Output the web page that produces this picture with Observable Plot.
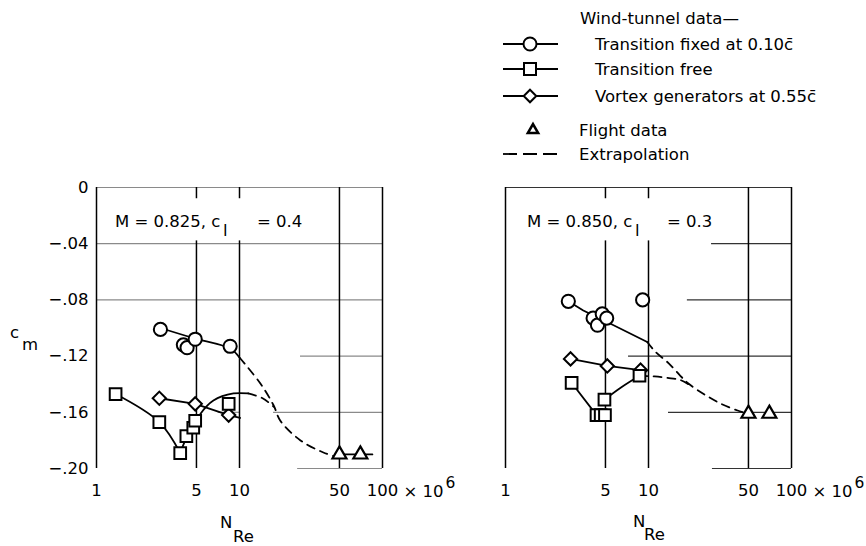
<!DOCTYPE html>
<html>
<head>
<meta charset="utf-8">
<script src="https://cdn.jsdelivr.net/npm/d3@7"></script>
<script src="https://cdn.jsdelivr.net/npm/@observablehq/plot@0.6"></script>
<style>
  html, body { margin: 0; padding: 0; background: #fff; }
  #wrap { position: relative; width: 866px; height: 546px; overflow: hidden; font-family: 'DejaVu Sans', sans-serif; color: #000; }
  #wrap > * { position: absolute; }
</style>
</head>
<body>
<div id="wrap"></div>
<script>
// ---------- data: left panel (M = 0.825, cl = 0.4) ----------
const xTicks = [1, 5, 10, 50, 100];
const yTicks = [0, -0.04, -0.08, -0.12, -0.16, -0.20];

const L_fixedN  = [2.8, 4.05, 4.3, 4.9, 8.6];
const L_fixedCm = [-0.101, -0.112, -0.114, -0.108, -0.113];
const L_freeN   = [1.36, 2.75, 3.85, 4.25, 4.75, 4.9, 8.4];
const L_freeCm  = [-0.147, -0.167, -0.189, -0.177, -0.171, -0.166, -0.154];
const L_vgN     = [2.75, 4.9, 8.4];
const L_vgCm    = [-0.150, -0.154, -0.162];
const L_flightN = [50, 70];
const L_flightCm = [-0.19, -0.19];

// faired curves and extrapolations, left
const L_fixedFairN  = [2.8, 4.7, 8.6, 10.0];
const L_fixedFairCm = [-0.100, -0.107, -0.1146, -0.121];
const L_fixedExtN   = [10.0, 14, 17.3, 19.3, 26.7, 38.6, 48.4];
const L_fixedExtCm  = [-0.121, -0.1395, -0.155, -0.166, -0.180, -0.1886, -0.192];
const L_freeFairN1  = [1.36, 2.75, 3.85];
const L_freeFairCm1 = [-0.147, -0.167, -0.189];
const L_freeFairN2  = [3.85, 4.33, 4.92, 5.34, 6.57, 9.07, 11.5];
const L_freeFairCm2 = [-0.189, -0.1765, -0.168, -0.161, -0.1516, -0.1466, -0.1466];
const L_freeExtN    = [11.5, 14.5, 17.3];
const L_freeExtCm   = [-0.1466, -0.150, -0.156];
const L_vgFairN     = [2.75, 4.9, 8.4, 10.1];
const L_vgFairCm    = [-0.150, -0.154, -0.162, -0.164];
const L_flightLineN  = [50, 85];
const L_flightLineCm = [-0.19, -0.19];

// ---------- data: right panel (M = 0.850, cl = 0.3) ----------
const R_fixedN  = [2.75, 4.1, 4.4, 4.75, 5.1, 9.1];
const R_fixedCm = [-0.081, -0.093, -0.098, -0.090, -0.093, -0.080];
const R_freeN   = [2.9, 4.33, 4.63, 4.96, 4.92, 8.65];
const R_freeCm  = [-0.139, -0.162, -0.162, -0.162, -0.151, -0.134];
const R_vgN     = [2.85, 5.15, 8.8];
const R_vgCm    = [-0.122, -0.127, -0.130];
const R_flightN = [50, 70];
const R_flightCm = [-0.161, -0.161];

const R_fixedFairN  = [2.75, 3.5, 4.5, 5.7, 9.8];
const R_fixedFairCm = [-0.081, -0.0875, -0.093, -0.098, -0.110];
const R_fixedExtN   = [9.8, 11.2, 13.8, 16.7, 19, 24, 31.8, 42, 50];
const R_fixedExtCm  = [-0.110, -0.117, -0.125, -0.134, -0.1395, -0.1466, -0.1537, -0.1587, -0.161];
const R_lowExtN     = [8.65, 11, 13.6, 16.7, 19.7];
const R_lowExtCm    = [-0.134, -0.1345, -0.1355, -0.137, -0.141];
const R_freeFairN1  = [2.9, 4.33];
const R_freeFairCm1 = [-0.139, -0.162];
const R_freeFairN2  = [4.92, 6.5, 8.65];
const R_freeFairCm2 = [-0.151, -0.142, -0.134];
const R_vgFairN     = [2.85, 5.15, 8.8];
const R_vgFairCm    = [-0.122, -0.127, -0.130];

// grid segments (value, from, to)
const L_hGridY  = [0, -0.04, -0.08, -0.12, -0.16, -0.16, -0.20];
const L_hGridX1 = [1, 1, 1, 26.7, 7.1, 17.3, 25.5];
const L_hGridX2 = [100, 100, 100, 100, 10, 100, 100];
const R_hGridY  = [0, -0.04, -0.08, -0.12, -0.16, -0.20];
const R_hGridX1 = [1, 27.6, 18.7, 7.25, 13.8, 28];
const R_hGridX2 = [100, 100, 100, 100, 100, 100];
const vGridX  = [1, 5, 5, 10, 10, 50, 100];
const vGridY1 = [0, 0, -0.038, 0, -0.038, 0, 0];
const vGridY2 = [-0.2, -0.008, -0.2, -0.008, -0.2, -0.2, -0.2];

// ---------- helpers ----------
const zip = (xs, ys) => xs.map((x, i) => ({x, y: ys[i]}));
const FONT = "'DejaVu Sans', sans-serif";
const FS = 16.5;
const fmtY = d => d === 0 ? "0" : "\u2212" + d3.format(".2f")(-d).slice(1);

function panel(o) {
  const hGrid = o.hy.map((y, i) => ({y, x1: o.hx1[i], x2: o.hx2[i]}));
  const vGrid = vGridX.map((x, i) => ({x, y1: vGridY1[i], y2: vGridY2[i]}));
  const dotOpts = {x: "x", y: "y", fill: "white", stroke: "black", strokeWidth: 2};
  const marks = [
    Plot.ruleY(hGrid, {y: "y", x1: "x1", x2: "x2", stroke: o.gridColor, strokeWidth: 1.2}),
    Plot.ruleX(vGrid, {x: "x", y1: "y1", y2: "y2", stroke: "black", strokeWidth: 1.5}),
    Plot.axisX({ticks: xTicks, tickSize: 0, tickPadding: 16, tickFormat: d => String(d), label: null, fontSize: FS}),
    Plot.text([100], {x: d => d, y: () => -0.2, text: () => "\u00d7 10", dx: 21, dy: 28, textAnchor: "start", lineAnchor: "bottom", fontSize: FS}),
    Plot.text([100], {x: d => d, y: () => -0.2, text: () => "6", dx: 63, dy: 19, textAnchor: "start", lineAnchor: "bottom", fontSize: FS - 1}),
  ];
  if (o.yAxis) marks.push(Plot.axisY({ticks: yTicks, tickSize: 0, tickPadding: 8, tickFormat: fmtY, label: null, fontSize: FS}));
  for (const l of o.solid) marks.push(Plot.line(l.pts, {x: "x", y: "y", stroke: "black", strokeWidth: 1.8, curve: l.curve || "catmull-rom"}));
  for (const l of o.dashed) marks.push(Plot.line(l, {x: "x", y: "y", stroke: "black", strokeWidth: 1.8, strokeDasharray: "8,6", curve: "catmull-rom"}));
  marks.push(
    Plot.dot(o.vg, {...dotOpts, symbol: "diamond2", r: 6}),
    Plot.dot(o.free, {...dotOpts, symbol: "square", r: 6.6}),
    Plot.dot(o.fixed, {...dotOpts, symbol: "circle", r: 6.6}),
    Plot.dot(o.flight, {...dotOpts, symbol: "triangle", r: 5.2, strokeWidth: 2.2})
  );
  return Plot.plot({
    width: o.width, height: 376,
    marginLeft: o.ml, marginRight: o.mr, marginTop: 17, marginBottom: 78,
    x: {type: "log", domain: [1, 100]},
    y: {domain: [-0.2, 0], axis: o.yAxis ? undefined : null},
    style: {fontFamily: FONT, fontSize: FS + "px", background: "transparent", overflow: "visible", color: "black"},
    marks
  });
}

const wrap = document.getElementById("wrap");

const left = panel({
  width: 460, ml: 96, mr: 78, yAxis: true, gridColor: "#8a8a8a",
  hy: L_hGridY, hx1: L_hGridX1, hx2: L_hGridX2,
  fixed: zip(L_fixedN, L_fixedCm), free: zip(L_freeN, L_freeCm), vg: zip(L_vgN, L_vgCm), flight: zip(L_flightN, L_flightCm),
  solid: [
    {pts: zip(L_fixedFairN, L_fixedFairCm)},
    {pts: zip(L_freeFairN1, L_freeFairCm1)},
    {pts: zip(L_freeFairN2, L_freeFairCm2)},
    {pts: zip(L_vgFairN, L_vgFairCm), curve: "linear"},
    {pts: zip(L_flightLineN, L_flightLineCm), curve: "linear"}
  ],
  dashed: [zip(L_fixedExtN, L_fixedExtCm), zip(L_freeExtN, L_freeExtCm)]
});
left.style.left = "0px"; left.style.top = "170px";
wrap.appendChild(left);

const right = panel({
  width: 406, ml: 45, mr: 75, yAxis: false, gridColor: "#333",
  hy: R_hGridY, hx1: R_hGridX1, hx2: R_hGridX2,
  fixed: zip(R_fixedN, R_fixedCm), free: zip(R_freeN, R_freeCm), vg: zip(R_vgN, R_vgCm), flight: zip(R_flightN, R_flightCm),
  solid: [
    {pts: zip(R_fixedFairN, R_fixedFairCm), curve: "linear"},
    {pts: zip(R_freeFairN1, R_freeFairCm1), curve: "linear"},
    {pts: zip(R_freeFairN2, R_freeFairCm2)},
    {pts: zip(R_vgFairN, R_vgFairCm), curve: "linear"}
  ],
  dashed: [zip(R_fixedExtN, R_fixedExtCm), zip(R_lowExtN, R_lowExtCm)]
});
right.style.left = "460px"; right.style.top = "170px";
wrap.appendChild(right);

// ---------- legend and labels (overlay svg) ----------
const ov = d3.create("svg").attr("width", 866).attr("height", 546)
  .style("position", "absolute").style("left", "0px").style("top", "0px")
  .style("font-family", FONT).style("font-size", FS + "px").style("pointer-events", "none");

function txt(x, y, s, size) {
  ov.append("text").attr("x", x).attr("y", y).attr("font-size", size || FS).attr("fill", "black").text(s);
}
function seg(x1, x2, y, dash) {
  ov.append("line").attr("x1", x1).attr("x2", x2).attr("y1", y).attr("y2", y)
    .attr("stroke", "black").attr("stroke-width", 1.8).attr("stroke-dasharray", dash || null);
}
function sym(type, x, y, size, sw) {
  ov.append("path").attr("d", d3.symbol(type, size)()).attr("transform", `translate(${x},${y})`)
    .attr("fill", "white").attr("stroke", "black").attr("stroke-width", sw || 2);
}

// legend
txt(580, 24, "Wind-tunnel data\u2014");
seg(503, 558, 44); sym(d3.symbolCircle, 530, 44, Math.PI * 6.5 * 6.5);
txt(595, 50, "Transition fixed at 0.10c\u0304");
seg(503, 558, 69); sym(d3.symbolSquare, 530, 69, 12 * 12);
txt(595, 75, "Transition free");
seg(503, 558, 96); sym(d3.symbolDiamond2, 530, 96, 100);
txt(595, 102, "Vortex generators at 0.55c\u0304");
sym(d3.symbolTriangle, 533, 130, 45, 2.6);
txt(579, 136, "Flight data");
seg(503, 560, 154, "14,6");
txt(579, 160, "Extrapolation");

// panel annotations
txt(115, 227, "M = 0.825, c"); txt(223, 236, "l"); txt(257, 227, "= 0.4");
txt(527, 227, "M = 0.850, c"); txt(635, 236, "l"); txt(667, 227, "= 0.3");

// axis titles
txt(10, 338, "c"); txt(22, 350, "m");
txt(220, 528, "N"); txt(233, 542, "Re");
txt(633, 527, "N"); txt(644, 540, "Re");

wrap.appendChild(ov.node());
</script>
</body>
</html>
